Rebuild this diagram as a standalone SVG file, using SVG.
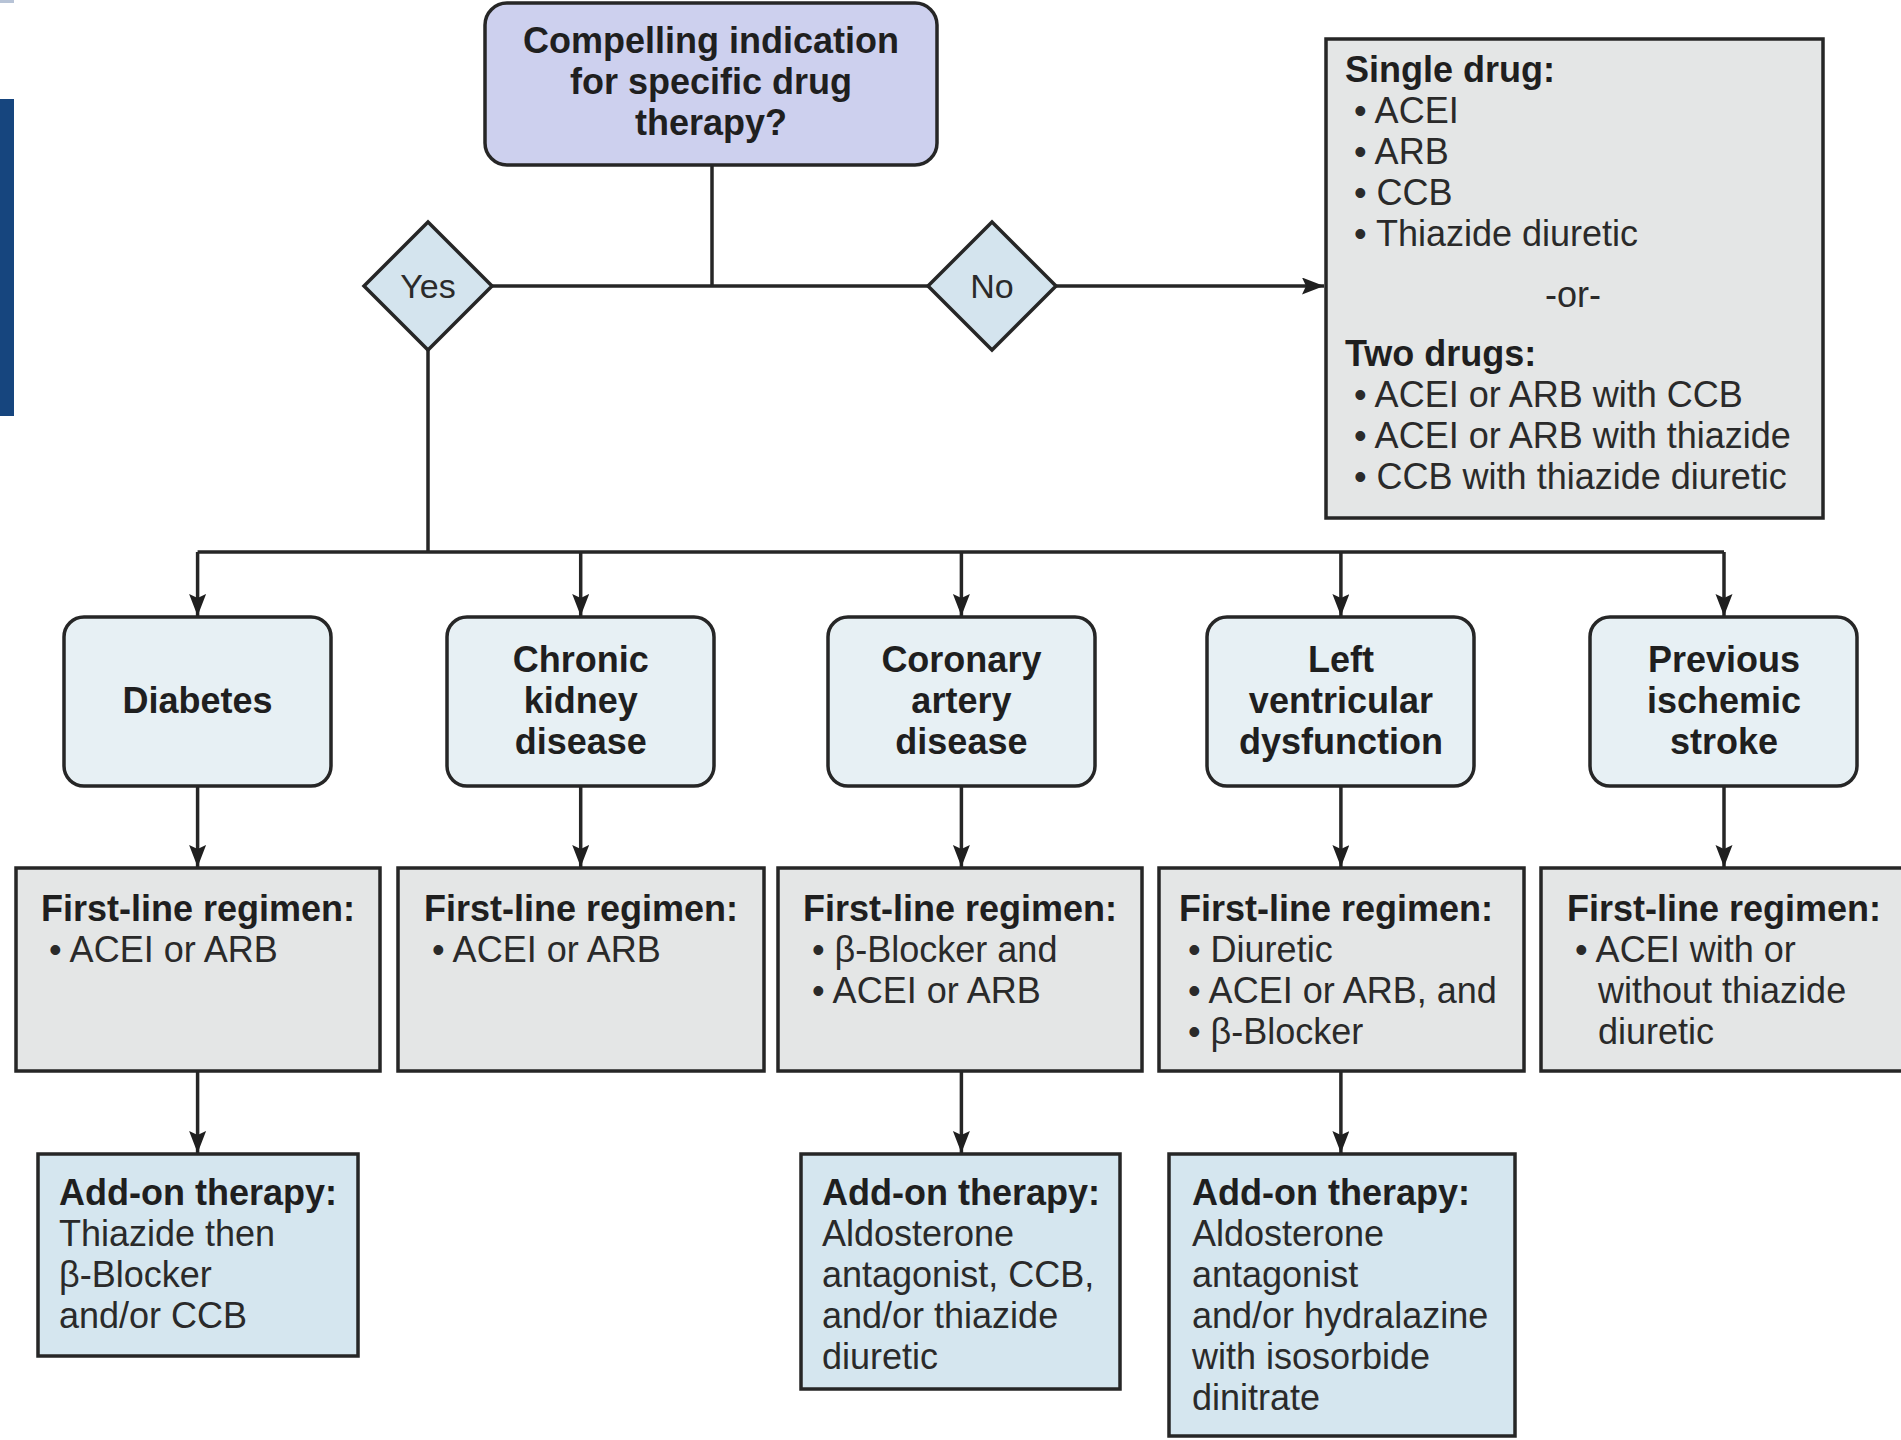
<svg xmlns="http://www.w3.org/2000/svg" width="1901" height="1440" viewBox="0 0 1901 1440">
<defs>
<style>
.b{font-family:"Liberation Sans",Arial,sans-serif;font-weight:bold;font-size:36px;fill:#1f1f1f}
.r{font-family:"Liberation Sans",Arial,sans-serif;font-size:36px;fill:#2a2a2a}
.c{text-anchor:middle}
.box{stroke:#262626;stroke-width:3.5}
.top{fill:#cdd0ee}
.dia{fill:#d4e4ee}
.cond{fill:#e7f0f4}
.first{fill:#e4e6e6}
.add{fill:#d5e6ef}
.ln{stroke:#262626;stroke-width:3.5;fill:none}
</style>
<marker id="ah" markerUnits="userSpaceOnUse" markerWidth="24" markerHeight="18" refX="22" refY="8.5" orient="auto">
<path d="M0,0 L22,8.5 L0,17 L4,8.5 Z" fill="#1f1f1f"/>
</marker>
</defs>
<rect x="0" y="0" width="14" height="3" fill="#b7c3d6"/>
<rect x="0" y="99" width="14" height="317" fill="#16457e"/>
<g id="connectors">
<path class="ln" d="M712,165 V286"/>
<path class="ln" d="M492,286 H928"/>
<path class="ln" d="M1056,286 H1324" marker-end="url(#ah)"/>
<path class="ln" d="M428,350 V552"/>
<path class="ln" d="M197.6,552 H1724"/>
<path class="ln" d="M197.6,552 V616" marker-end="url(#ah)"/>
<path class="ln" d="M580.7,552 V616" marker-end="url(#ah)"/>
<path class="ln" d="M961.4,552 V616" marker-end="url(#ah)"/>
<path class="ln" d="M1340.9,552 V616" marker-end="url(#ah)"/>
<path class="ln" d="M1724,552 V616" marker-end="url(#ah)"/>
<path class="ln" d="M197.6,786 V867" marker-end="url(#ah)"/>
<path class="ln" d="M580.7,786 V867" marker-end="url(#ah)"/>
<path class="ln" d="M961.4,786 V867" marker-end="url(#ah)"/>
<path class="ln" d="M1340.9,786 V867" marker-end="url(#ah)"/>
<path class="ln" d="M1724,786 V867" marker-end="url(#ah)"/>
<path class="ln" d="M197.6,1071 V1153" marker-end="url(#ah)"/>
<path class="ln" d="M961.4,1071 V1153" marker-end="url(#ah)"/>
<path class="ln" d="M1340.9,1071 V1153" marker-end="url(#ah)"/>
</g>
<g id="question">
<rect class="box top" x="485" y="3" width="452" height="162" rx="22"/>
<text class="b c" x="711" y="53">Compelling indication</text>
<text class="b c" x="711" y="94">for specific drug</text>
<text class="b c" x="711" y="135">therapy?</text>
</g>
<g id="yes">
<polygon class="box dia" points="428,222 492,286 428,350 364,286"/>
<text class="r c" x="428" y="298" style="font-size:34px">Yes</text>
</g>
<g id="no">
<polygon class="box dia" points="992,222 1056,286 992,350 928,286"/>
<text class="r c" x="992" y="298" style="font-size:34px">No</text>
</g>
<g id="nocompelling">
<rect class="box first" x="1326" y="39" width="497" height="479"/>
<text class="b" x="1345" y="82">Single drug:</text>
<text class="r" x="1354" y="123">• ACEI</text>
<text class="r" x="1354" y="164">• ARB</text>
<text class="r" x="1354" y="205">• CCB</text>
<text class="r" x="1354" y="246">• Thiazide diuretic</text>
<text class="r c" x="1573" y="307">-or-</text>
<text class="b" x="1345" y="366">Two drugs:</text>
<text class="r" x="1354" y="407">• ACEI or ARB with CCB</text>
<text class="r" x="1354" y="448">• ACEI or ARB with thiazide</text>
<text class="r" x="1354" y="489">• CCB with thiazide diuretic</text>
</g>
<g id="diabetes">
<rect class="box cond" x="64" y="617" width="267" height="169" rx="20"/>
<text class="b c" x="197.6" y="713">Diabetes</text>
</g>
<g id="ckd">
<rect class="box cond" x="447" y="617" width="267" height="169" rx="20"/>
<text class="b c" x="580.7" y="672">Chronic</text>
<text class="b c" x="580.7" y="713">kidney</text>
<text class="b c" x="580.7" y="754">disease</text>
</g>
<g id="cad">
<rect class="box cond" x="828" y="617" width="267" height="169" rx="20"/>
<text class="b c" x="961.4" y="672">Coronary</text>
<text class="b c" x="961.4" y="713">artery</text>
<text class="b c" x="961.4" y="754">disease</text>
</g>
<g id="lvd">
<rect class="box cond" x="1207" y="617" width="267" height="169" rx="20"/>
<text class="b c" x="1340.9" y="672">Left</text>
<text class="b c" x="1340.9" y="713">ventricular</text>
<text class="b c" x="1340.9" y="754">dysfunction</text>
</g>
<g id="stroke">
<rect class="box cond" x="1590" y="617" width="267" height="169" rx="20"/>
<text class="b c" x="1724" y="672">Previous</text>
<text class="b c" x="1724" y="713">ischemic</text>
<text class="b c" x="1724" y="754">stroke</text>
</g>
<g id="first-diabetes">
<rect class="box first" x="16" y="868" width="364" height="203"/>
<text class="b" x="41" y="921">First-line regimen:</text>
<text class="r" x="49" y="962">• ACEI or ARB</text>
</g>
<g id="first-ckd">
<rect class="box first" x="398" y="868" width="366" height="203"/>
<text class="b" x="424" y="921">First-line regimen:</text>
<text class="r" x="432" y="962">• ACEI or ARB</text>
</g>
<g id="first-cad">
<rect class="box first" x="778" y="868" width="364" height="203"/>
<text class="b" x="803" y="921">First-line regimen:</text>
<text class="r" x="812" y="962">• β-Blocker and</text>
<text class="r" x="812" y="1003">• ACEI or ARB</text>
</g>
<g id="first-lvd">
<rect class="box first" x="1159" y="868" width="365" height="203"/>
<text class="b" x="1179" y="921">First-line regimen:</text>
<text class="r" x="1188" y="962">• Diuretic</text>
<text class="r" x="1188" y="1003">• ACEI or ARB, and</text>
<text class="r" x="1188" y="1044">• β-Blocker</text>
</g>
<g id="first-stroke">
<rect class="box first" x="1541" y="868" width="372" height="203"/>
<text class="b" x="1567" y="921">First-line regimen:</text>
<text class="r" x="1575" y="962">• ACEI with or</text>
<text class="r" x="1598" y="1003">without thiazide</text>
<text class="r" x="1598" y="1044">diuretic</text>
</g>
<g id="addon-diabetes">
<rect class="box add" x="38" y="1154" width="320" height="202"/>
<text class="b" x="59" y="1205">Add-on therapy:</text>
<text class="r" x="59" y="1246">Thiazide then</text>
<text class="r" x="59" y="1287">β-Blocker</text>
<text class="r" x="59" y="1328">and/or CCB</text>
</g>
<g id="addon-cad">
<rect class="box add" x="801" y="1154" width="319" height="235"/>
<text class="b" x="822" y="1205">Add-on therapy:</text>
<text class="r" x="822" y="1246">Aldosterone</text>
<text class="r" x="822" y="1287">antagonist, CCB,</text>
<text class="r" x="822" y="1328">and/or thiazide</text>
<text class="r" x="822" y="1369">diuretic</text>
</g>
<g id="addon-lvd">
<rect class="box add" x="1169" y="1154" width="346" height="282"/>
<text class="b" x="1192" y="1205">Add-on therapy:</text>
<text class="r" x="1192" y="1246">Aldosterone</text>
<text class="r" x="1192" y="1287">antagonist</text>
<text class="r" x="1192" y="1328">and/or hydralazine</text>
<text class="r" x="1192" y="1369">with isosorbide</text>
<text class="r" x="1192" y="1410">dinitrate</text>
</g>
</svg>
